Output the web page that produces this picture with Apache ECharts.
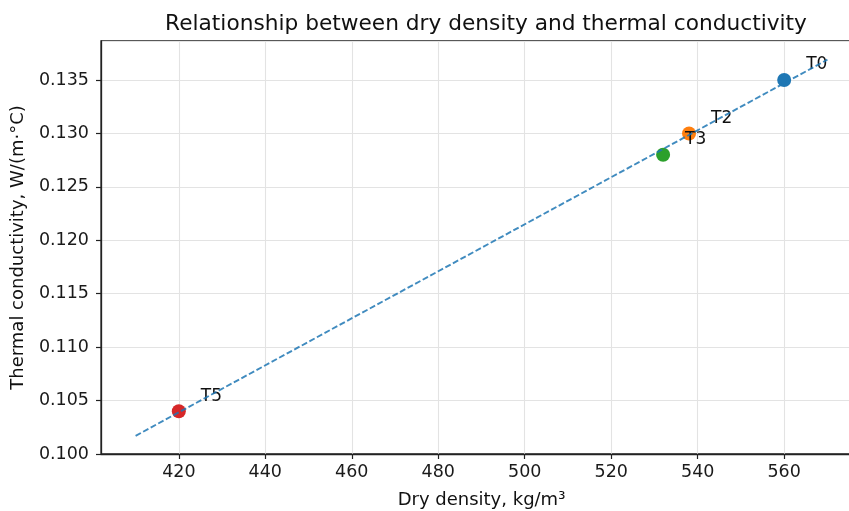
<!DOCTYPE html>
<html>
<head>
<meta charset="utf-8">
<script src="https://cdn.jsdelivr.net/npm/echarts@6/dist/echarts.min.js"></script>
<style>html,body{margin:0;padding:0;background:#fff;}#c{width:849px;height:511px;}</style>
</head>
<body>
<div id="c"></div>
<script>
const sampleNames = ['T0', 'T2', 'T3', 'T5'];
const dryDensity = [560, 538, 532, 420];
const conductivity = [0.135, 0.130, 0.128, 0.104];
const fitX = [410, 570];
const fitY = [0.1017, 0.1369];
const xTicks = [420, 440, 460, 480, 500, 520, 540, 560];
const yTicks = [0.100, 0.105, 0.110, 0.115, 0.120, 0.125, 0.130, 0.135];

const pointColors = ['#1f77b4', '#ff7f0e', '#2ca02c', '#d62728'];
const FONT = 'DejaVu Sans';

const chart = echarts.init(document.getElementById('c'), null, {renderer: 'canvas'});
const scatterData = sampleNames.map((n, i) => ({
  name: n,
  value: [dryDensity[i], conductivity[i]],
  itemStyle: {color: pointColors[i], opacity: 1}
}));
const lineData = fitX.map((x, i) => [x, fitY[i]]);

chart.setOption({
  animation: false,
  backgroundColor: '#fff',
  title: {
    text: 'Relationship between dry density and thermal conductivity',
    left: 481, top: 8, textAlign: 'center',
    textStyle: {fontFamily: FONT, fontSize: 21.7, fontWeight: 'normal', color: '#111'}
  },
  grid: {left: 101, top: 41, width: 761, height: 413, outerBoundsMode: 'none', containLabel: false,
    show: true, borderColor: '#222', borderWidth: 1.3, backgroundColor: 'transparent'},
  xAxis: {
    type: 'value', min: 402, max: 578, splitNumber: 9, minInterval: 20, maxInterval: 20,
    name: 'Dry density, kg/m³', nameLocation: 'middle', nameGap: 37,
    nameTextStyle: {fontFamily: FONT, fontSize: 18, color: '#111'},
    axisLine: {show: true, onZero: false, lineStyle: {color: '#222', width: 1.3}},
    axisTick: {show: true, length: 5, lineStyle: {color: '#222', width: 1.2}},
    axisLabel: {fontFamily: FONT, fontSize: 17.5, color: '#1a1a1a', margin: 9, showMinLabel: false, showMaxLabel: false,
      formatter: v => xTicks.includes(Math.round(v)) ? String(Math.round(v)) : ''},
    splitLine: {show: true, lineStyle: {color: '#e3e3e3', width: 1.1}}
  },
  yAxis: {
    type: 'value', min: 0.100, max: 0.13865, interval: 0.005,
    name: 'Thermal conductivity, W/(m·°C)', nameLocation: 'middle', nameGap: 74, nameRotate: 90,
    nameTextStyle: {fontFamily: FONT, fontSize: 18, color: '#111'},
    axisLine: {show: true, onZero: false, lineStyle: {color: '#222', width: 1.3}},
    axisTick: {show: true, length: 5, lineStyle: {color: '#222', width: 1.2}},
    axisLabel: {fontFamily: FONT, fontSize: 17.5, color: '#1a1a1a', margin: 12, showMaxLabel: false,
      formatter: v => {
        const m = yTicks.find(t => Math.abs(t - v) < 1e-7);
        return m !== undefined ? m.toFixed(3) : '';
      }},
    splitLine: {show: true, lineStyle: {color: '#e3e3e3', width: 1.1}}
  },
  series: [
    {
      type: 'scatter', data: scatterData, symbolSize: 14, z: 2,
      emphasis: {disabled: true},
      label: {
        show: true, formatter: p => p.name, position: [29, -8], align: 'left', verticalAlign: 'middle',
        fontFamily: FONT, fontSize: 17, color: '#111'
      }
    },
    {
      type: 'line', data: lineData, showSymbol: false, symbol: 'none', z: 3,
      lineStyle: {color: 'rgba(31,119,180,0.85)', width: 1.9, type: [6, 2.6]}
    }
  ]
});
</script>
</body>
</html>
